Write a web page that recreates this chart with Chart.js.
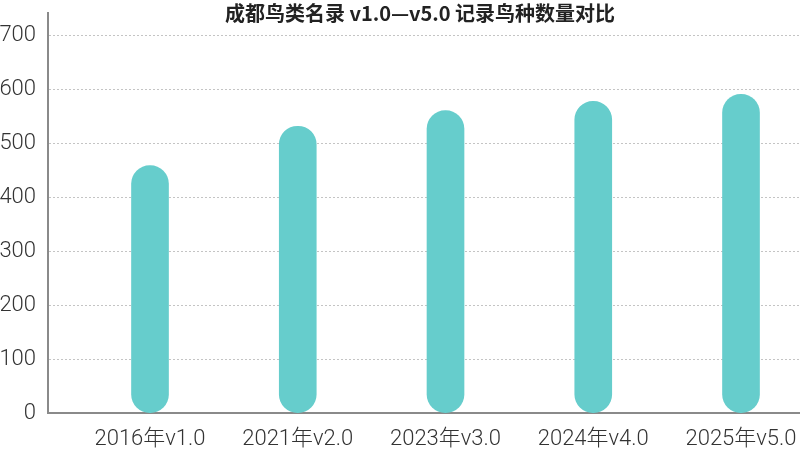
<!DOCTYPE html>
<html>
<head>
<meta charset="utf-8">
<script src="https://cdn.jsdelivr.net/npm/chart.js@4/dist/chart.umd.min.js"></script>
<style>
  html, body { margin: 0; padding: 0; background: #fff; overflow: hidden; }
  #wrap { width: 840px; height: 454px; position: relative; }
</style>
</head>
<body>
<div id="wrap"><canvas id="c"></canvas></div>
<script>
const titleText = '成都鸟类名录 v1.0—v5.0 记录鸟种数量对比';
const categories = ['2016年v1.0', '2021年v2.0', '2023年v3.0', '2024年v4.0', '2025年v5.0'];
const speciesCounts = [459, 532, 561, 578, 591];
const yTicks = [0, 100, 200, 300, 400, 500, 600, 700];

const points = categories.map((c, i) => ({ x: i, y: speciesCounts[i] }));
const lightFont = '"Roboto", "Noto Sans CJK SC", sans-serif';

new Chart(document.getElementById('c'), {
  type: 'bar',
  data: {
    datasets: [{
      label: '记录鸟种数量',
      data: points,
      backgroundColor: '#66cdcc',
      barThickness: 37,
      borderRadius: 19,
      borderSkipped: false
    }]
  },
  options: {
    responsive: true,
    maintainAspectRatio: false,
    animation: false,
    layout: { padding: { left: 0, right: 0, top: 0, bottom: 0 } },
    plugins: {
      legend: { display: false },
      tooltip: { enabled: false },
      title: {
        display: true,
        text: titleText,
        color: '#222',
        font: { family: '"Noto Sans CJK SC", sans-serif', size: 20, weight: 'bold', lineHeight: 1.2 },
        padding: { top: 1.5, bottom: -12.5 }
      }
    },
    scales: {
      x: {
        type: 'linear',
        offset: false,
        min: -0.6904,
        max: 4.67,
        grid: { display: false, drawTicks: true, tickLength: 10.8 },
        border: { display: true, color: '#8a8a8a', width: 2 },
        ticks: {
          stepSize: 1,
          includeBounds: false,
          autoSkip: false,
          maxRotation: 0,
          padding: 4,
          color: '#333',
          font: { family: lightFont, size: 22, weight: 300, lineHeight: 1 },
          callback: (v) => (Number.isInteger(v) && categories[v] !== undefined) ? categories[v] : ''
        }
      },
      y: {
        min: 0,
        max: 742,
        afterFit: (s) => { s.width = 48; s.paddingTop = 0; s.paddingBottom = 0; },
        grid: { color: '#c4c4c4', drawTicks: false, lineWidth: 1 },
        border: { display: true, color: '#8a8a8a', width: 2, dash: [2, 2] },
        ticks: {
          stepSize: 100,
          includeBounds: false,
          padding: 12,
          color: '#333',
          font: { family: lightFont, size: 22, weight: 300, lineHeight: 0.05 },
          callback: (v) => yTicks.includes(v) ? String(v) : ''
        }
      }
    }
  }
});
</script>
</body>
</html>
